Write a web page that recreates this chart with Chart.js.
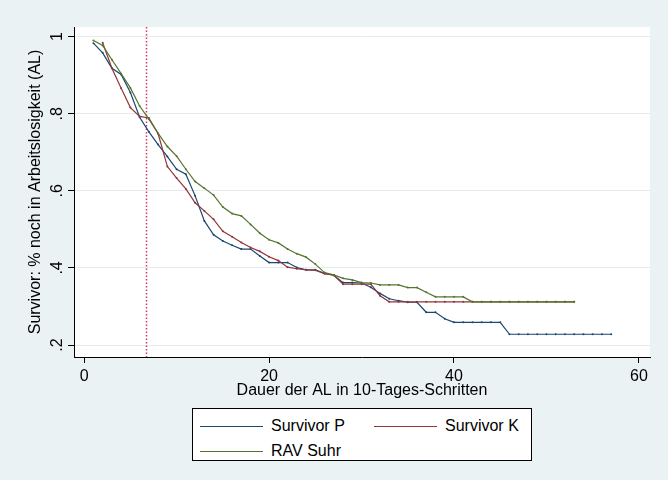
<!DOCTYPE html>
<html>
<head>
<meta charset="utf-8">
<script src="https://cdn.jsdelivr.net/npm/chart.js@4/dist/chart.umd.min.js"></script>
<style>
    body { margin: 0; background: #eaf2f3; font-family: Arial, "Liberation Sans", sans-serif; }
    #wrap { position: relative; width: 668px; height: 480px; }
    #legend {
        position: absolute; left: 192px; top: 408px; width: 340px; height: 53px;
        background: #ffffff; border: 1px solid #000000; box-sizing: border-box;
    }
    .entry { position: absolute; height: 20px; line-height: 20px; font-size: 16px; color: #000; white-space: nowrap; }
    .swatch { position: absolute; left: 0; top: 10px; width: 63px; height: 1px; }
    .entry span.label { position: absolute; left: 71px; top: 0; }
</style>
</head>
<body>
<div id="wrap">
    <canvas id="survivorChart" width="668" height="480"></canvas>
    <div id="legend"></div>
</div>
<script>
const steps = [1, 2, 3, 4, 5, 6, 7, 8, 9, 10, 11, 12, 13, 14, 15, 16, 17, 18, 19, 20,
    21, 22, 23, 24, 25, 26, 27, 28, 29, 30, 31, 32, 33, 34, 35, 36, 37, 38, 39, 40,
    41, 42, 43, 44, 45, 46, 47, 48, 49, 50, 51, 52, 53, 54, 55, 56, 57];

const survivorP = [0.983, 0.958, 0.918, 0.902, 0.855, 0.791, 0.753, 0.720, 0.689, 0.656,
    0.643, 0.587, 0.522, 0.486, 0.470, 0.459, 0.449, 0.449, 0.431, 0.414,
    0.414, 0.414, 0.401, 0.395, 0.395, 0.386, 0.381, 0.362, 0.362, 0.361,
    0.350, 0.334, 0.320, 0.315, 0.311, 0.311, 0.285, 0.285, 0.268, 0.259,
    0.259, 0.259, 0.259, 0.259, 0.259, 0.228, 0.228, 0.228, 0.228, 0.228,
    0.228, 0.228, 0.228, 0.228, 0.228, 0.228, 0.228];

const survivorK = [null, 0.984, 0.918, 0.866, 0.816, 0.793, 0.789, 0.748, 0.663, 0.633,
    0.605, 0.569, 0.548, 0.526, 0.495, 0.481, 0.466, 0.453, 0.443, 0.429,
    0.419, 0.402, 0.398, 0.395, 0.394, 0.385, 0.381, 0.358, 0.358, 0.358,
    0.358, 0.328, 0.312, 0.312, 0.312, 0.312, 0.312, 0.312, 0.312, 0.312,
    0.312, 0.312, 0.312, 0.312, 0.312, 0.312, 0.312, 0.312, 0.312, 0.312,
    0.312, 0.312, 0.312, null, null, null, null];

const ravSuhr = [0.990, 0.977, 0.940, 0.904, 0.867, 0.820, 0.786, 0.749, 0.715, 0.690,
    0.656, 0.624, 0.607, 0.589, 0.558, 0.541, 0.535, 0.513, 0.490, 0.473,
    0.465, 0.449, 0.437, 0.428, 0.410, 0.388, 0.382, 0.373, 0.369, 0.362,
    0.361, 0.356, 0.356, 0.356, 0.349, 0.349, 0.337, 0.325, 0.325, 0.325,
    0.325, 0.312, 0.312, 0.312, 0.312, 0.312, 0.312, 0.312, 0.312, 0.312,
    0.312, 0.312, 0.312, null, null, null, null];

const seriesNames = ['Survivor P', 'Survivor K', 'RAV Suhr'];
const seriesColors = ['#1a476f', '#90353b', '#55752f'];

const xTicks = [0, 20, 40, 60];
const yTicks = [0.2, 0.4, 0.6, 0.8, 1];
const cutoffStep = 6.65;

const FONT = 'Arial, "Liberation Sans", sans-serif';

function toPoints(values) {
    return steps
        .map((s, i) => ({ x: s, y: values[i] }))
        .filter(p => p.y !== null);
}

function makeDataset(values, idx) {
    return {
        label: seriesNames[idx],
        data: toPoints(values),
        borderColor: seriesColors[idx],
        backgroundColor: seriesColors[idx],
        borderWidth: 1.2,
        pointRadius: 1,
        pointBorderWidth: 0,
        pointBackgroundColor: seriesColors[idx],
        tension: 0,
        order: 3 - idx
    };
}

// white plot region behind the grid
const plotBackground = {
    id: 'plotBackground',
    beforeDraw(chart) {
        const { ctx, chartArea } = chart;
        ctx.save();
        ctx.fillStyle = '#ffffff';
        ctx.fillRect(chartArea.left, chartArea.top, chartArea.right - chartArea.left, chartArea.bottom - chartArea.top);
        ctx.restore();
    }
};

// dotted reference line
const cutoffLine = {
    id: 'cutoffLine',
    beforeDatasetsDraw(chart) {
        const { ctx, chartArea, scales } = chart;
        const x = Math.round(scales.x.getPixelForValue(cutoffStep)) + 0.5;
        ctx.save();
        ctx.strokeStyle = '#d23a5c';
        ctx.lineWidth = 1.5;
        ctx.setLineDash([1.5, 2]);
        ctx.beginPath();
        ctx.moveTo(x, chartArea.top);
        ctx.lineTo(x, chartArea.bottom);
        ctx.stroke();
        ctx.restore();
    }
};

function renderLegend() {
    const box = document.getElementById('legend');
    const spots = [[7, 7], [181, 7], [7, 32]];
    seriesNames.forEach((name, i) => {
        const entry = document.createElement('div');
        entry.className = 'entry';
        entry.style.left = spots[i][0] + 'px';
        entry.style.top = spots[i][1] + 'px';
        entry.innerHTML = `<span class="swatch" style="background:${seriesColors[i]}"></span><span class="label">${name}</span>`;
        box.appendChild(entry);
    });
}

function renderChart() {
    const ctx = document.getElementById('survivorChart').getContext('2d');

    new Chart(ctx, {
        type: 'line',
        data: {
            datasets: [
                makeDataset(survivorP, 0),
                makeDataset(survivorK, 1),
                makeDataset(ravSuhr, 2)
            ]
        },
        options: {
            responsive: false,
            animation: false,
            devicePixelRatio: 1,
            layout: {
                padding: { top: 27, right: 18, left: 0, bottom: 80 }
            },
            plugins: {
                legend: { display: false },
                tooltip: { enabled: false }
            },
            scales: {
                x: {
                    type: 'linear',
                    min: -1.1,
                    max: 61.2,
                    afterBuildTicks: axis => { axis.ticks = xTicks.map(v => ({ value: v })); },
                    afterFit: axis => { axis.height = 43; },
                    ticks: {
                        color: '#000',
                        padding: 4,
                        font: { family: FONT, size: 16 }
                    },
                    grid: {
                        drawOnChartArea: false,
                        tickLength: 6,
                        tickColor: '#000'
                    },
                    border: { color: '#000', width: 1 },
                    title: {
                        display: true,
                        text: 'Dauer der AL in 10-Tages-Schritten',
                        color: '#000',
                        padding: { top: 0, bottom: 0 },
                        font: { family: FONT, size: 16 }
                    }
                },
                y: {
                    type: 'linear',
                    min: 0.169,
                    max: 1.025,
                    afterBuildTicks: axis => { axis.ticks = yTicks.map(v => ({ value: v })); },
                    afterFit: axis => { axis.width = 74; },
                    ticks: {
                        color: '#000',
                        padding: 4,
                        minRotation: 90,
                        maxRotation: 90,
                        crossAlign: 'center',
                        font: { family: FONT, size: 16 },
                        callback: v => String(v).replace(/^0\./, '.')
                    },
                    grid: {
                        color: '#e4ecee',
                        tickLength: 6,
                        tickColor: '#000'
                    },
                    border: { color: '#000', width: 1 },
                    title: {
                        display: true,
                        text: 'Survivor: % noch in Arbeitslosigkeit (AL)',
                        color: '#000',
                        padding: { top: 26, bottom: 0 },
                        font: { family: FONT, size: 16 }
                    }
                }
            }
        },
        plugins: [plotBackground, cutoffLine]
    });
}

document.addEventListener('DOMContentLoaded', () => {
    renderChart();
    renderLegend();
});
</script>
</body>
</html>
